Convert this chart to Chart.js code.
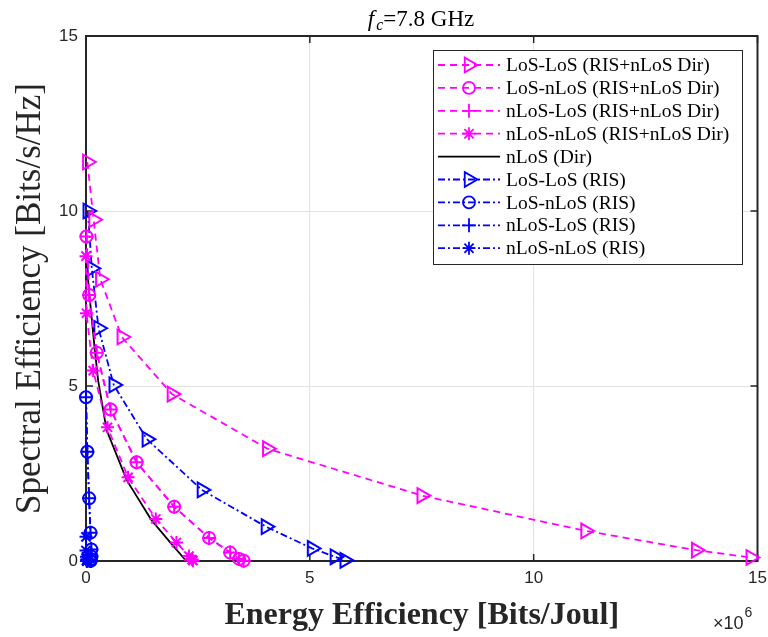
<!DOCTYPE html>
<html>
<head>
<meta charset="utf-8">
<script src="https://cdn.jsdelivr.net/npm/chart.js@4.4.1/dist/chart.umd.min.js"></script>
<style>
  html, body { margin: 0; padding: 0; background: #ffffff; }
  canvas { display: block; }
</style>
</head>
<body>
<canvas id="c" width="768" height="637"></canvas>
<script>
// ---------------- data (Energy efficiency in 1e6 Bits/Joul, Spectral efficiency in Bits/s/Hz) ----------------
const seriesLabels = [
  'LoS-LoS (RIS+nLoS Dir)',
  'LoS-nLoS (RIS+nLoS Dir)',
  'nLoS-LoS (RIS+nLoS Dir)',
  'nLoS-nLoS (RIS+nLoS Dir)',
  'nLoS (Dir)',
  'LoS-LoS (RIS)',
  'LoS-nLoS (RIS)',
  'nLoS-LoS (RIS)',
  'nLoS-nLoS (RIS)'
];

const losLosRisDirEE  = [0.03, 0.17, 0.32, 0.80, 1.92, 4.05, 7.50, 11.16, 13.63, 14.85];
const losLosRisDirSE  = [11.40, 9.75, 8.05, 6.40, 4.77, 3.21, 1.87, 0.86, 0.31, 0.10];

const losNlosRisDirEE = [0.01, 0.07, 0.24, 0.55, 1.13, 1.97, 2.75, 3.22, 3.42, 3.52];
const losNlosRisDirSE = [9.27, 7.60, 5.95, 4.33, 2.82, 1.55, 0.66, 0.24, 0.06, 0.01];

const nlosLosRisDirEE = [0.01, 0.07, 0.24, 0.55, 1.13, 1.97, 2.75, 3.22, 3.42, 3.52];
const nlosLosRisDirSE = [9.27, 7.60, 5.95, 4.33, 2.82, 1.55, 0.66, 0.24, 0.06, 0.01];

const nlosNlosRisDirEE = [0.00, 0.01, 0.16, 0.48, 0.94, 1.56, 2.02, 2.30, 2.37, 2.39];
const nlosNlosRisDirSE = [8.71, 7.08, 5.44, 3.82, 2.39, 1.20, 0.53, 0.14, 0.04, 0.01];

const nlosDirEE = [0.00, 0.08, 0.19, 0.27, 0.46, 0.91, 1.46, 1.88, 2.24];
const nlosDirSE = [8.70, 7.55, 6.12, 5.17, 3.74, 2.31, 1.17, 0.53, 0.00];

const losLosRisEE  = [0.04, 0.13, 0.28, 0.62, 1.36, 2.59, 4.02, 5.05, 5.56, 5.78];
const losLosRisSE  = [10.00, 8.36, 6.65, 5.03, 3.48, 2.03, 0.98, 0.36, 0.12, 0.02];

const losNlosRisEE = [0.00, 0.03, 0.07, 0.10, 0.12, 0.12, 0.11, 0.10, 0.10, 0.10];
const losNlosRisSE = [4.68, 3.12, 1.79, 0.81, 0.33, 0.13, 0.05, 0.02, 0.01, 0.003];

const nlosLosRisEE = [0.00, 0.03, 0.07, 0.10, 0.12, 0.12, 0.11, 0.10, 0.10, 0.10];
const nlosLosRisSE = [4.68, 3.12, 1.79, 0.81, 0.33, 0.13, 0.05, 0.02, 0.01, 0.003];

const nlosNlosRisEE = [0.00, 0.00, 0.01, 0.02, 0.02, 0.02, 0.02, 0.02, 0.02, 0.02];
const nlosNlosRisSE = [0.69, 0.30, 0.12, 0.05, 0.02, 0.01, 0.005, 0.002, 0.001, 0.0];

const xTickValues = [0, 5, 10, 15];
const yTickValues = [0, 5, 10, 15];
const chartTitle = { main: 'f', sub: 'c', rest: '=7.8 GHz' };
const xAxisTitle = 'Energy Efficiency [Bits/Joul]';
const yAxisTitle = 'Spectral Efficiency [Bits/s/Hz]';
const xExponent = { base: '\u00D710', exp: '6' };

// ---------------- build datasets ----------------
function pts(xs, ys) { return xs.map((x, i) => ({ x: x, y: ys[i] })); }

const MAG = '#FF00FF', BLU = '#0000FF', BLK = '#000000';
const DASH = [7, 5];
const DASHDOT = [7, 3, 2, 3];

const styles = [
  { c: MAG, dash: DASH, ps: 'triangle', rot: 90, r: 8.5 },
  { c: MAG, dash: DASH, ps: 'circle', rot: 0, r: 6 },
  { c: MAG, dash: DASH, ps: 'cross', rot: 0, r: 7 },
  { c: MAG, dash: DASH, ps: 'star', rot: 0, r: 6.5 },
  { c: BLK, dash: [], ps: false, rot: 0, r: 0 },
  { c: BLU, dash: DASHDOT, ps: 'triangle', rot: 90, r: 8.5 },
  { c: BLU, dash: DASHDOT, ps: 'circle', rot: 0, r: 6 },
  { c: BLU, dash: DASHDOT, ps: 'cross', rot: 0, r: 7 },
  { c: BLU, dash: DASHDOT, ps: 'star', rot: 0, r: 6.5 }
];
const seriesData = [
  pts(losLosRisDirEE, losLosRisDirSE),
  pts(losNlosRisDirEE, losNlosRisDirSE),
  pts(nlosLosRisDirEE, nlosLosRisDirSE),
  pts(nlosNlosRisDirEE, nlosNlosRisDirSE),
  pts(nlosDirEE, nlosDirSE),
  pts(losLosRisEE, losLosRisSE),
  pts(losNlosRisEE, losNlosRisSE),
  pts(nlosLosRisEE, nlosLosRisSE),
  pts(nlosNlosRisEE, nlosNlosRisSE)
];

const datasets = seriesLabels.map((lab, i) => {
  const s = styles[i];
  return {
    label: lab,
    data: seriesData[i],
    showLine: true,
    borderColor: s.c,
    backgroundColor: 'rgba(0,0,0,0)',
    borderWidth: 1.8,
    borderDash: s.dash,
    pointStyle: s.ps === false ? 'circle' : s.ps,
    pointRadius: s.ps === false ? 0 : s.r,
    pointRotation: s.rot,
    pointBorderWidth: 2,
    pointBorderColor: s.c,
    pointBackgroundColor: 'rgba(0,0,0,0)',
    pointHoverRadius: 0,
    tension: 0,
    clip: false
  };
});

// ---------------- decorations plugin ----------------
const AX = '#262626';
const framePlugin = {
  id: 'frame',
  beforeDatasetsDraw(chart) {
    const { ctx, chartArea: a, scales } = chart;
    ctx.save();
    ctx.strokeStyle = AX;
    ctx.lineWidth = 2;
    ctx.strokeRect(a.left, a.top, a.right - a.left, a.bottom - a.top);
    ctx.lineWidth = 1.5;
    const tl = 7;
    xTickValues.forEach(v => {
      const px = scales.x.getPixelForValue(v);
      ctx.beginPath();
      ctx.moveTo(px, a.bottom); ctx.lineTo(px, a.bottom - tl);
      ctx.moveTo(px, a.top); ctx.lineTo(px, a.top + tl);
      ctx.stroke();
    });
    yTickValues.forEach(v => {
      const py = scales.y.getPixelForValue(v);
      ctx.beginPath();
      ctx.moveTo(a.left, py); ctx.lineTo(a.left + tl, py);
      ctx.moveTo(a.right, py); ctx.lineTo(a.right - tl, py);
      ctx.stroke();
    });
    ctx.restore();
  },
  afterDraw(chart) {
    const { ctx, chartArea: a } = chart;
    ctx.save();
    // ---- legend ----
    const lx = 433, ly = 50, lw = 309, lh = 214;
    ctx.fillStyle = '#ffffff';
    ctx.fillRect(lx, ly, lw, lh);
    ctx.strokeStyle = AX;
    ctx.lineWidth = 1;
    ctx.strokeRect(lx + 0.5, ly + 0.5, lw, lh);
    const rowH = 22.9, y0 = 65;
    ctx.font = '19.5px "Liberation Serif"';
    ctx.textBaseline = 'middle';
    ctx.textAlign = 'left';
    chart.data.datasets.forEach((ds, i) => {
      const s = styles[i];
      const yy = y0 + i * rowH;
      ctx.save();
      ctx.strokeStyle = s.c;
      ctx.lineWidth = 1.8;
      ctx.setLineDash(s.dash);
      ctx.beginPath();
      ctx.moveTo(438, yy); ctx.lineTo(500, yy);
      ctx.stroke();
      ctx.setLineDash([]);
      if (s.ps !== false) {
        ctx.fillStyle = 'rgba(0,0,0,0)';
        Chart.helpers.drawPoint(ctx, { pointStyle: s.ps, rotation: s.rot, radius: s.r, borderWidth: 2 }, 469, yy);
      }
      ctx.restore();
      ctx.fillStyle = '#000000';
      ctx.fillText(ds.label, 506, yy + 1);
    });
    // ---- title ----
    ctx.fillStyle = '#000000';
    ctx.textBaseline = 'alphabetic';
    ctx.font = 'italic 23px "Liberation Serif"';
    const wF = ctx.measureText(chartTitle.main).width;
    ctx.font = 'italic 16px "Liberation Serif"';
    const wS = ctx.measureText(chartTitle.sub).width;
    ctx.font = '23px "Liberation Serif"';
    const wR = ctx.measureText(chartTitle.rest).width;
    let tx = 421 - (wF + wS + wR + 2) / 2;
    const tb = 26;
    ctx.font = 'italic 23px "Liberation Serif"';
    ctx.fillText(chartTitle.main, tx, tb); tx += wF + 2;
    ctx.font = 'italic 16px "Liberation Serif"';
    ctx.fillText(chartTitle.sub, tx, tb + 4); tx += wS;
    ctx.font = '23px "Liberation Serif"';
    ctx.fillText(chartTitle.rest, tx, tb);
    // ---- exponent ----
    ctx.fillStyle = AX;
    ctx.font = '18px "Liberation Sans"';
    ctx.fillText(xExponent.base, 713, 629);
    const wb = ctx.measureText(xExponent.base).width;
    ctx.font = '14px "Liberation Sans"';
    ctx.fillText(xExponent.exp, 713 + wb + 1, 617);
    ctx.restore();
  }
};

new Chart(document.getElementById('c').getContext('2d'), {
  type: 'scatter',
  data: { datasets: datasets },
  options: {
    responsive: false,
    animation: false,
    devicePixelRatio: 1,
    events: [],
    layout: { padding: { top: 36, right: 9, left: 0, bottom: 0 } },
    plugins: { legend: { display: false }, tooltip: { enabled: false }, title: { display: false } },
    scales: {
      x: {
        type: 'linear', min: 0, max: 15,
        afterBuildTicks(scale) { scale.ticks = xTickValues.map(v => ({ value: v })); },
        ticks: { font: { family: 'Liberation Sans', size: 17 }, color: AX, padding: 7, maxRotation: 0 },
        grid: { color: '#e2e2e2', lineWidth: 1, drawTicks: false },
        border: { display: false },
        title: { display: true, text: xAxisTitle, color: '#262626',
                 font: { family: 'Liberation Serif', size: 32, weight: 'bold' }, padding: { top: 0, bottom: 2 } },
        afterFit(scale) { scale.height = 76; scale.paddingLeft = 0; scale.paddingRight = 0; }
      },
      y: {
        type: 'linear', min: 0, max: 15,
        afterBuildTicks(scale) { scale.ticks = yTickValues.map(v => ({ value: v })); },
        ticks: { font: { family: 'Liberation Sans', size: 17 }, color: AX, padding: 8 },
        grid: { color: '#e2e2e2', lineWidth: 1, drawTicks: false },
        border: { display: false },
        title: { display: true, text: yAxisTitle, color: '#262626',
                 font: { family: 'Liberation Serif', size: 35 }, padding: { top: 10, bottom: 0 } },
        afterFit(scale) { scale.width = 86; scale.paddingTop = 0; scale.paddingBottom = 0; }
      }
    }
  },
  plugins: [framePlugin]
});
</script>
</body>
</html>
